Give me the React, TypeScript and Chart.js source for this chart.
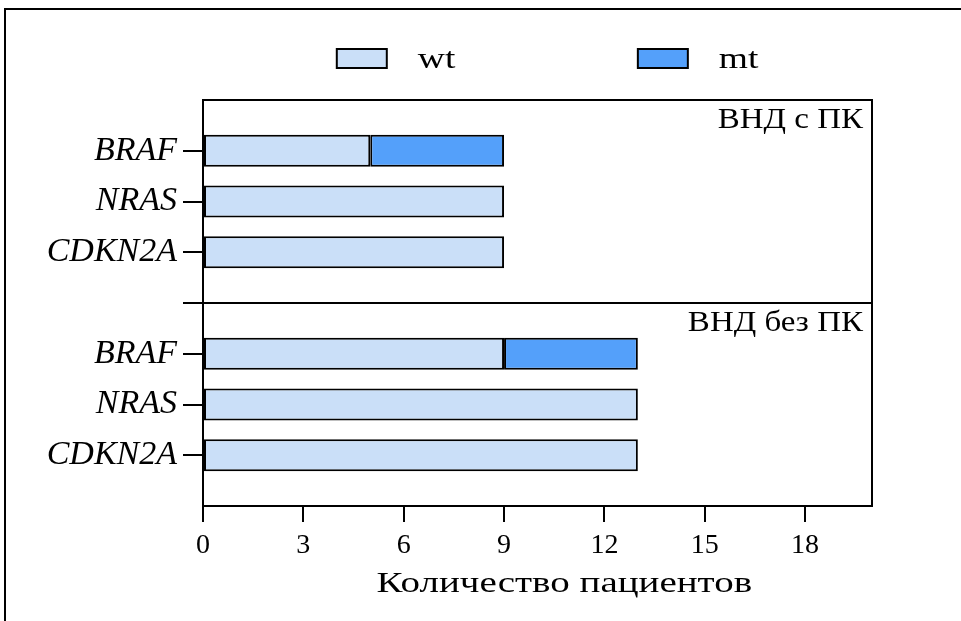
import React, { useEffect, useRef } from 'react';
import { Chart, registerables } from 'chart.js';

Chart.register(...registerables);

// ---- data ----
const categories = ['', 'BRAF', 'NRAS', 'CDKN2A', '', 'BRAF', 'NRAS', 'CDKN2A', ''];
const groupLabels = ['ВНД с ПК', 'ВНД без ПК'];
const groupLabelRows = [0, 4];
const seriesNames = ['wt', 'mt'];
const wtValues = [null, 5, 9, 9, null, 9, 13, 13, null];
const mtValues = [null, 4, null, null, null, 4, null, null, null];
const xTicks = [0, 3, 6, 9, 12, 15, 18];
const xMin = 0;
const xMax = 20;
const axisTitle = 'Количество пациентов';

const wtColor = 'rgb(202,223,248)';
const mtColor = 'rgb(84,160,250)';
const serif = '"Liberation Serif", "DejaVu Serif", serif';

function stretchedText(ctx: CanvasRenderingContext2D, text: string, x: number, y: number, sx: number, align: CanvasTextAlign) {
  ctx.save();
  ctx.translate(x, y);
  ctx.scale(sx, 1);
  ctx.textAlign = align;
  ctx.fillText(text, 0, 0);
  ctx.restore();
}

const decorPlugin = {
  id: 'decor',
  beforeDraw(chart: any) {
    const { ctx } = chart;
    ctx.save();
    ctx.fillStyle = '#fff';
    ctx.fillRect(0, 0, chart.width, chart.height);
    ctx.restore();
  },
  afterDraw(chart: any) {
    const { ctx, chartArea: a, scales } = chart;
    const xs = scales.x;
    const ys = scales.y;
    ctx.save();
    ctx.strokeStyle = '#000';
    ctx.lineWidth = 2;
    // outer figure frame
    ctx.beginPath();
    ctx.moveTo(5, chart.height);
    ctx.lineTo(5, 9);
    ctx.lineTo(chart.width, 9);
    ctx.stroke();
    // plot frame
    ctx.strokeRect(a.left, a.top, a.right - a.left, a.bottom - a.top);

    // group labels
    ctx.fillStyle = '#000';
    ctx.font = `30px ${serif}`;
    ctx.textBaseline = 'alphabetic';
    const step = ys.getPixelForValue(1) - ys.getPixelForValue(0);
    groupLabels.forEach((g, i) => {
      const y = ys.getPixelForValue(groupLabelRows[i]) + step * 0.55;
      stretchedText(ctx, g, a.right - 9, y, 1.1, 'right');
    });

    // legend
    const colors = [wtColor, mtColor];
    const boxW = 50;
    const boxH = 19;
    const w = a.right - a.left;
    const starts = [a.left + w * 0.2, a.left + w * 0.65];
    ctx.font = `30px ${serif}`;
    seriesNames.forEach((n, i) => {
      const x0 = starts[i];
      ctx.fillStyle = colors[i];
      ctx.fillRect(x0, 49, boxW, boxH);
      ctx.lineWidth = 2;
      ctx.strokeRect(x0, 49, boxW, boxH);
      ctx.fillStyle = '#000';
      stretchedText(ctx, n, x0 + boxW + 31, 68, 1.25, 'left');
    });

    // x axis title
    ctx.font = `30px ${serif}`;
    ctx.textBaseline = 'alphabetic';
    stretchedText(ctx, axisTitle, xs.getPixelForValue(10.8), 592, 1.3, 'center');
    ctx.restore();
  },
};

export default function App() {
  const ref = useRef<HTMLCanvasElement | null>(null);
  useEffect(() => {
    if (!ref.current) return;
    const chart = new Chart(ref.current, {
      type: 'bar',
      data: {
        labels: categories,
        datasets: [
          {
            label: seriesNames[0],
            data: wtValues as any,
            backgroundColor: wtColor,
            borderColor: '#000',
            borderWidth: 2,
            borderSkipped: false,
            barPercentage: 0.63,
            categoryPercentage: 1,
          },
          {
            label: seriesNames[1],
            data: mtValues as any,
            backgroundColor: mtColor,
            borderColor: '#000',
            borderWidth: 2,
            borderSkipped: false,
            barPercentage: 0.63,
            categoryPercentage: 1,
          },
        ],
      },
      options: {
        indexAxis: 'y',
        animation: false,
        responsive: false,
        maintainAspectRatio: false,
        layout: { padding: { top: 100, right: 89, bottom: 0, left: 0 } },
        plugins: {
          legend: { display: false },
          tooltip: { enabled: false },
          title: { display: false },
        },
        scales: {
          x: {
            type: 'linear',
            stacked: true,
            min: xMin,
            max: xMax,
            afterBuildTicks: (scale: any) => {
              scale.ticks = xTicks.map((v) => ({ value: v }));
            },
            afterFit: (scale: any) => {
              scale.height = 115;
            },
            grid: {
              drawOnChartArea: false,
              drawTicks: true,
              tickLength: 16,
              tickColor: '#000',
              tickWidth: 2,
              color: '#000',
              lineWidth: 2,
            },
            border: { display: true, color: '#000', width: 2 },
            ticks: {
              color: '#000',
              padding: 7,
              font: { family: serif, size: 28 },
              maxRotation: 0,
            },
          },
          y: {
            type: 'category',
            stacked: true,
            offset: false,
            afterFit: (scale: any) => {
              scale.width = 203;
            },
            grid: {
              offset: false,
              drawOnChartArea: true,
              drawTicks: true,
              tickLength: 20,
              tickWidth: 2,
              lineWidth: 2,
              color: (c: any) => (c.index === 4 ? '#000' : 'rgba(0,0,0,0)'),
              tickColor: (c: any) =>
                c.index === 0 || c.index === categories.length - 1 ? 'rgba(0,0,0,0)' : '#000',
            },
            border: { display: true, color: '#000', width: 2 },
            ticks: {
              autoSkip: false,
              color: '#000',
              padding: 6,
              font: { family: serif, size: 34, style: 'italic' },
            },
          },
        },
      },
      plugins: [decorPlugin],
    });
    return () => chart.destroy();
  }, []);
  return (
    <div style={{ position: 'fixed', left: 0, top: 0, width: 961, height: 621, background: '#fff' }}>
      <canvas ref={ref} width={961} height={621} style={{ display: 'block', width: 961, height: 621 }} />
    </div>
  );
}
